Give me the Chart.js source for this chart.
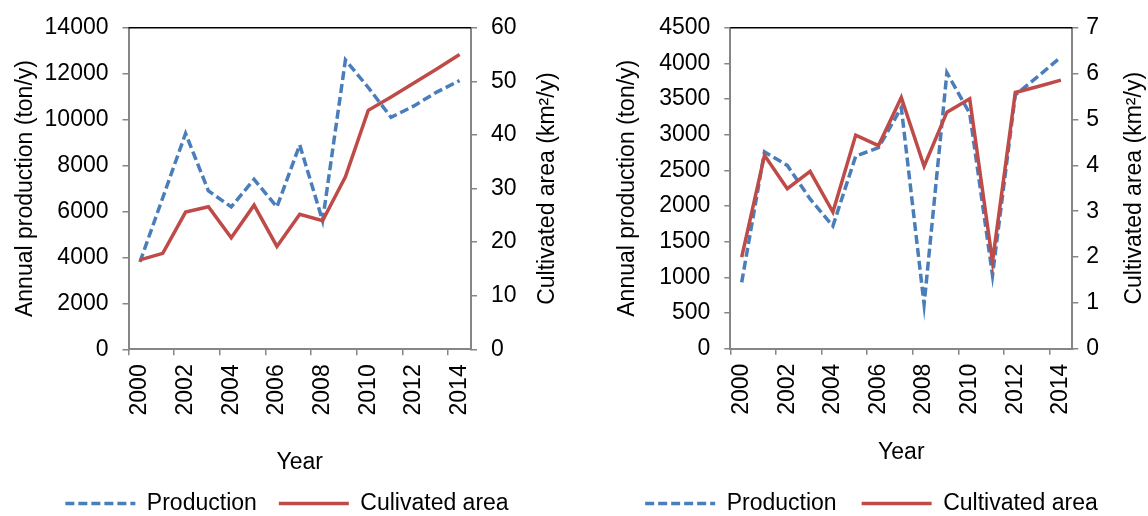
<!DOCTYPE html>
<html>
<head>
<meta charset="utf-8">
<script src="https://cdn.jsdelivr.net/npm/chart.js@4.4.1/dist/chart.umd.min.js"></script>
<style>
  html, body { margin: 0; padding: 0; background: #fff; }
  #wrap { position: relative; width: 1148px; height: 516px; overflow: hidden; }
  canvas { position: absolute; top: 0; }
  #cA { left: 0; }
  #cB { left: 574px; }
</style>
</head>
<body>
<div id="wrap">
  <canvas id="cA" width="574" height="516"></canvas>
  <canvas id="cB" width="574" height="516"></canvas>
</div>
<script>
// ---- data ----
const years = ['2000','2001','2002','2003','2004','2005','2006','2007','2008','2009','2010','2011','2012','2013','2014'];

// left panel
const productionA = [3800, 6600, 9400, 6900, 6200, 7400, 6200, 8900, 5600, 12600, 11400, 10100, 10600, 11200, 11700];
const areaA       = [16.7, 17.9, 25.6, 26.6, 20.8, 26.9, 19.2, 25.2, 24.0, 32.2, 44.6, 47.1, 49.7, 52.3, 55.0];

// right panel
const productionB = [930, 2760, 2570, 2100, 1720, 2700, 2820, 3380, 620, 3870, 3300, 1030, 3560, 3820, 4090];
const areaB       = [2.0, 4.22, 3.49, 3.87, 2.98, 4.66, 4.43, 5.48, 3.98, 5.16, 5.45, 1.90, 5.59, 5.72, 5.86];

// axis ranges
const prodAxisA = { min: 0, max: 14000, step: 2000 };
const areaAxisA = { min: 0, max: 60, step: 10 };
const prodAxisB = { min: 0, max: 4500, step: 500 };
const areaAxisB = { min: 0, max: 7, step: 1 };

const labelProduction = 'Production';
const labelAreaA = 'Culivated area';
const labelAreaB = 'Cultivated area';
const titleLeft = 'Annual production (ton/y)';
const titleRight = 'Cultivated area (km\u00B2/y)';
const titleX = 'Year';

// ---- styles ----
const FONT = '"Liberation Sans", Arial, Helvetica, sans-serif';
const FS = 23;
const BLUE = '#4A7EBB';
const RED = '#BE4B48';
const AXIS = '#868686';

const decor = {
  id: 'decor',
  afterDraw(chart, args, opts) {
    const { ctx, chartArea: a } = chart;
    ctx.save();
    ctx.strokeStyle = '#000';
    ctx.lineWidth = 1.5;
    ctx.beginPath();
    ctx.moveTo(a.left, a.top);
    ctx.lineTo(a.right, a.top);
    ctx.stroke();
    ctx.font = FS + 'px ' + FONT;
    ctx.fillStyle = '#000';
    ctx.textAlign = 'center';
    ctx.textBaseline = 'middle';
    ctx.translate(opts.x, (a.top + a.bottom) / 2);
    ctx.rotate(-Math.PI / 2);
    ctx.fillText(opts.text, 0, 0);
    ctx.restore();
  }
};

function legendItems(chart) {
  const items = Chart.defaults.plugins.legend.labels.generateLabels(chart);
  items.forEach(it => {
    const ds = chart.data.datasets[it.datasetIndex];
    it.lineDash = ds.borderDash || [];
    it.lineWidth = ds.borderWidth;
    it.strokeStyle = ds.borderColor;
    it.fillStyle = ds.borderColor;
    it.lineCap = 'butt';
  });
  items.sort((a, b) => a.datasetIndex - b.datasetIndex);
  return items;
}

function makeChart(id, prod, area, areaLabel, pAxis, aAxis, L) {
  return new Chart(document.getElementById(id), {
    type: 'line',
    data: {
      labels: years,
      datasets: [
        { label: labelProduction, data: prod, yAxisID: 'y', borderColor: BLUE, backgroundColor: BLUE,
          borderWidth: 3.5, borderDash: [9, 4], pointRadius: 0, tension: 0, order: 1, fill: false },
        { label: areaLabel, data: area, yAxisID: 'y2', borderColor: RED, backgroundColor: RED,
          borderWidth: 3.5, pointRadius: 0, tension: 0, order: 0, fill: false }
      ]
    },
    options: {
      responsive: false,
      animation: false,
      devicePixelRatio: 1,
      layout: { padding: { left: L.pl, right: L.pr, top: L.top, bottom: -9 } },
      plugins: {
        tooltip: { enabled: false },
        legend: {
          position: 'bottom',
          labels: {
            font: { family: FONT, size: FS }, color: '#000',
            usePointStyle: true, pointStyle: 'line', pointStyleWidth: 70,
            padding: L.legPad,
            generateLabels: legendItems
          }
        },
        decor: { x: L.rtX, text: titleRight }
      },
      scales: {
        x: {
          type: 'category',
          offset: true,
          afterFit: s => { s.height = L.xH; },
          grid: { display: true, drawOnChartArea: false, drawTicks: true, tickLength: 6, offset: true,
                  lineWidth: 1.5, color: c => (c.index % 2 === 0 ? AXIS : 'rgba(0,0,0,0)') },
          border: { display: true, color: AXIS, width: 2 },
          ticks: { autoSkip: false, maxRotation: 90, minRotation: 90, padding: 9, color: '#000',
                   font: { family: FONT, size: FS },
                   callback: (v, i) => (i % 2 === 0 ? years[i] : '') },
          title: { display: true, text: titleX, color: '#000', font: { family: FONT, size: FS },
                   padding: { top: 0, bottom: L.yearPad } }
        },
        y: {
          position: 'left',
          min: pAxis.min, max: pAxis.max,
          afterFit: s => { s.width = L.yW; },
          grid: { drawOnChartArea: false, drawTicks: true, tickLength: 6, color: AXIS, lineWidth: 1.5 },
          border: { display: true, color: AXIS, width: 2 },
          ticks: { stepSize: pAxis.step, padding: 14, color: '#000', font: { family: FONT, size: FS },
                   callback: v => String(v) },
          title: { display: true, text: titleLeft, color: '#000', font: { family: FONT, size: FS },
                   padding: { top: L.ltPad, bottom: 0 } }
        },
        y2: {
          position: 'right',
          min: aAxis.min, max: aAxis.max,
          afterFit: s => { s.width = L.y2W; },
          grid: { drawOnChartArea: false, drawTicks: true, tickLength: 6, color: AXIS, lineWidth: 1.5 },
          border: { display: true, color: AXIS, width: 2 },
          ticks: { stepSize: aAxis.step, padding: L.rtickPad, color: '#000', font: { family: FONT, size: FS },
                   callback: v => String(v) }
        }
      }
    },
    plugins: [decor]
  });
}

makeChart('cA', productionA, areaA, labelAreaA, prodAxisA, areaAxisA,
  { pl: 0, pr: 0, top: 21.7, yW: 128.5, y2W: 103, xH: 120.7, legPad: 22, yearPad: -6, ltPad: 12, rtX: 548, rtickPad: 14 });

makeChart('cB', productionB, areaB, labelAreaB, prodAxisB, areaAxisB,
  { pl: 21, pr: 0, top: 21.7, yW: 135.3, y2W: 75.7, xH: 118.3, legPad: 25, yearPad: 0.5, ltPad: 19, rtX: 561, rtickPad: 8 });
</script>
</body>
</html>
